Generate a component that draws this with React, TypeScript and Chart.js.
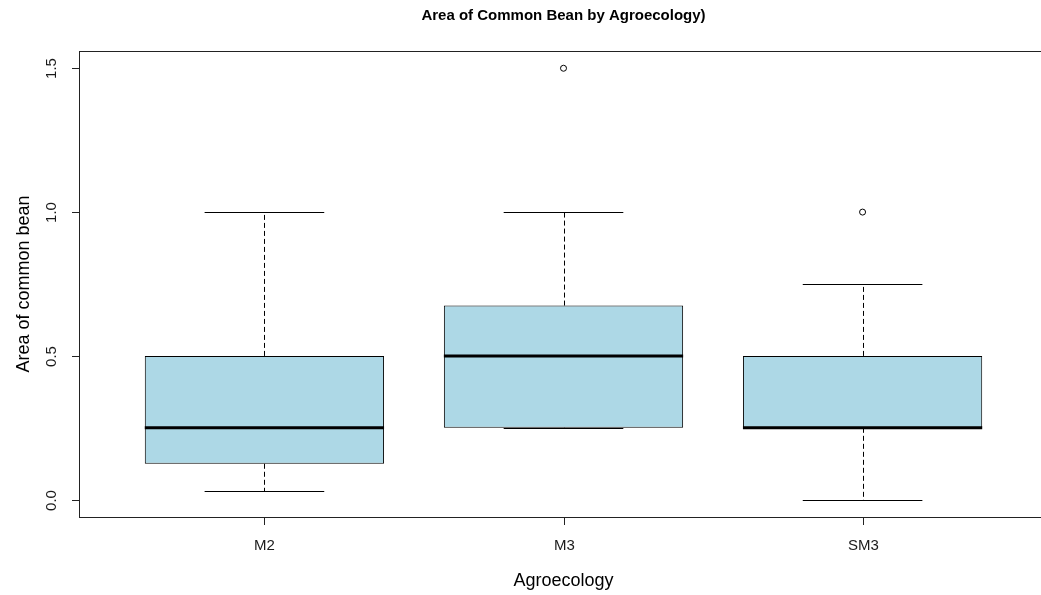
import { useEffect, useRef } from 'react';
import { Chart, registerables } from 'chart.js';

Chart.register(...registerables);

// Five-number summaries per agroecology zone
const groups = ['M2', 'M3', 'SM3'];
const lowerWhisker = [0.03, 0.25, 0.0];
const lowerQuartile = [0.125, 0.25, 0.25];
const medians = [0.25, 0.5, 0.25];
const upperQuartile = [0.5, 0.675, 0.5];
const upperWhisker = [1.0, 1.0, 0.75];
const outliers: number[][] = [[], [1.5], [1.0]];

// Axis ticks and ranges
const yTicks = [0, 0.5, 1.0, 1.5];
const yRange = [-0.06, 1.56];
const xRange = [0.38, 3.62];

const titleText = 'Area of Common Bean by Agroecology)';
const xTitle = 'Agroecology';
const yTitle = 'Area of common bean';

const FONT = '"Liberation Sans", Arial, sans-serif';
const BOX_HALF = 0.4;
const CAP_HALF = 0.2;

const boxplotPlugin = {
  id: 'rBoxplot',
  beforeDatasetsDraw(chart: any) {
    const { ctx, scales } = chart;
    const x = scales.x;
    const y = scales.y;
    ctx.save();
    ctx.strokeStyle = '#000';
    ctx.lineWidth = 1;
    groups.forEach((_, i) => {
      const pos = i + 1;
      const cx = Math.round(x.getPixelForValue(pos)) + 0.5;
      const capL = x.getPixelForValue(pos - CAP_HALF);
      const capR = x.getPixelForValue(pos + CAP_HALF);
      const yLo = Math.round(y.getPixelForValue(lowerWhisker[i])) + 0.5;
      const yHi = Math.round(y.getPixelForValue(upperWhisker[i])) + 0.5;
      const yQ1 = y.getPixelForValue(lowerQuartile[i]);
      const yQ3 = y.getPixelForValue(upperQuartile[i]);
      ctx.setLineDash([5, 3]);
      ctx.beginPath();
      ctx.moveTo(cx, yQ3);
      ctx.lineTo(cx, yHi);
      ctx.moveTo(cx, yQ1);
      ctx.lineTo(cx, yLo);
      ctx.stroke();
      ctx.setLineDash([]);
      ctx.beginPath();
      ctx.moveTo(capL, yHi);
      ctx.lineTo(capR, yHi);
      ctx.moveTo(capL, yLo);
      ctx.lineTo(capR, yLo);
      ctx.stroke();
    });
    ctx.restore();
  },
  afterDatasetsDraw(chart: any) {
    const { ctx, scales } = chart;
    const x = scales.x;
    const y = scales.y;
    ctx.save();
    ctx.strokeStyle = '#000';
    ctx.lineWidth = 3;
    ctx.lineCap = 'butt';
    groups.forEach((_, i) => {
      const pos = i + 1;
      const ym = y.getPixelForValue(medians[i]);
      ctx.beginPath();
      ctx.moveTo(x.getPixelForValue(pos - BOX_HALF), ym);
      ctx.lineTo(x.getPixelForValue(pos + BOX_HALF), ym);
      ctx.stroke();
    });
    ctx.restore();
  },
  afterDraw(chart: any) {
    const { ctx, chartArea, scales } = chart;
    const x = scales.x;
    const y = scales.y;
    const { left, right, top, bottom } = chartArea;
    ctx.save();
    ctx.strokeStyle = '#222';
    ctx.lineWidth = 1;
    // plot frame
    ctx.strokeRect(Math.round(left) + 0.5, Math.round(top) + 0.5, Math.round(right - left), Math.round(bottom - top));

    ctx.fillStyle = '#1a1a1a';
    // y axis ticks and rotated labels
    ctx.font = `15px ${FONT}`;
    ctx.textAlign = 'center';
    ctx.textBaseline = 'middle';
    yTicks.forEach((v) => {
      const py = Math.round(y.getPixelForValue(v)) + 0.5;
      ctx.beginPath();
      ctx.moveTo(Math.round(left) - 7, py);
      ctx.lineTo(Math.round(left), py);
      ctx.stroke();
      ctx.save();
      ctx.translate(52, py);
      ctx.rotate(-Math.PI / 2);
      ctx.fillText(v.toFixed(1), 0, 0);
      ctx.restore();
    });
    // x axis ticks and labels
    groups.forEach((g, i) => {
      const px = Math.round(x.getPixelForValue(i + 1)) + 0.5;
      ctx.beginPath();
      ctx.moveTo(px, Math.round(bottom));
      ctx.lineTo(px, Math.round(bottom) + 8);
      ctx.stroke();
      ctx.fillText(g, px, 546);
    });
    // axis titles
    ctx.font = `18px ${FONT}`;
    ctx.fillStyle = '#000';
    ctx.fillText(xTitle, (left + right) / 2, 581);
    ctx.save();
    ctx.translate(24, (top + bottom) / 2);
    ctx.rotate(-Math.PI / 2);
    ctx.fillText(yTitle, 0, 0);
    ctx.restore();
    // main title
    ctx.font = `bold 15px ${FONT}`;
    ctx.fillText(titleText, (left + right) / 2, 16);
    ctx.restore();
  },
};

export default function App() {
  const canvasRef = useRef<HTMLCanvasElement | null>(null);

  useEffect(() => {
    const canvas = canvasRef.current;
    if (!canvas) return;
    const chart = new Chart(canvas, {
      type: 'bar',
      data: {
        datasets: [
          {
            type: 'bar',
            label: 'IQR',
            data: groups.map((_, i) => ({ x: i + 1, y: [lowerQuartile[i], upperQuartile[i]] })) as any,
            backgroundColor: '#ADD8E6',
            borderColor: '#000',
            borderWidth: 1,
            borderSkipped: false,
            barPercentage: 0.8,
            categoryPercentage: 1,
            grouped: false,
          } as any,
          {
            type: 'scatter',
            label: 'Outliers',
            data: groups.flatMap((_, i) => outliers[i].map((v) => ({ x: i + 1, y: v }))),
            pointStyle: 'circle',
            pointRadius: 3,
            pointBorderWidth: 1,
            borderColor: '#000',
            backgroundColor: 'rgba(255,255,255,0)',
          } as any,
        ],
      },
      options: {
        animation: false,
        responsive: false,
        maintainAspectRatio: false,
        layout: { padding: { left: 79, right: 12, top: 51, bottom: 78 } },
        plugins: {
          legend: { display: false },
          tooltip: { enabled: false },
          title: { display: false },
        },
        scales: {
          x: {
            type: 'linear',
            display: false,
            offset: false,
            grid: { offset: false },
            min: xRange[0],
            max: xRange[1],
            afterBuildTicks: (scale: any) => {
              scale.ticks = groups.map((_, i) => ({ value: i + 1 }));
            },
          },
          y: {
            type: 'linear',
            display: false,
            min: yRange[0],
            max: yRange[1],
            afterBuildTicks: (scale: any) => {
              scale.ticks = yTicks.map((v) => ({ value: v }));
            },
          },
        },
      },
      plugins: [boxplotPlugin],
    });
    return () => chart.destroy();
  }, []);

  return (
    <div
      style={{
        position: 'fixed',
        left: 0,
        top: 0,
        width: 1041,
        height: 595,
        overflow: 'hidden',
        background: '#fff',
      }}
    >
      <canvas ref={canvasRef} width={1060} height={595} style={{ display: 'block' }} />
    </div>
  );
}
